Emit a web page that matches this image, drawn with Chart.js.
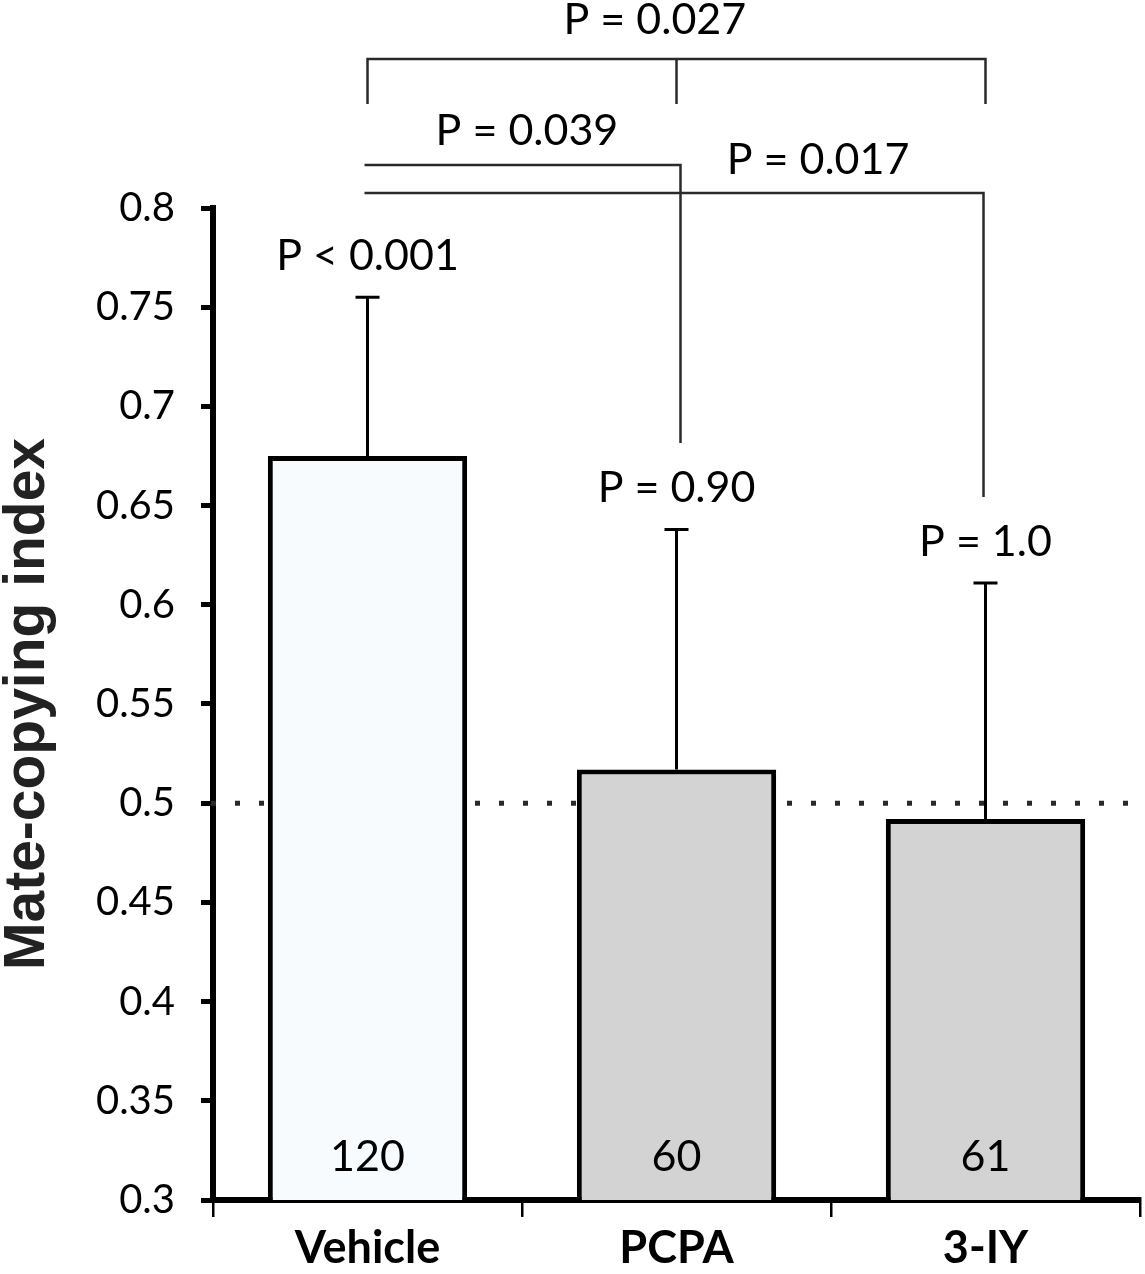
<!DOCTYPE html>
<html>
<head>
<meta charset="utf-8">
<script src="https://cdn.jsdelivr.net/npm/chart.js@4.4.1/dist/chart.umd.min.js"></script>
<style>
  html, body { margin: 0; padding: 0; background: #fff; }
  #wrap { width: 1145px; height: 1274px; }
</style>
</head>
<body>
<div id="wrap"><canvas id="chart" width="1145" height="1274"></canvas></div>
<script>
// Data
const categories = ['Vehicle', 'PCPA', '3-IY'];
const meanIndex = [0.675, 0.517, 0.492];
const errorTop = [0.755, 0.638, 0.611];
const sampleSizes = ['120', '60', '61'];
const chanceTests = ['P < 0.001', 'P = 0.90', 'P = 1.0'];
const yTicks = [0.3, 0.35, 0.4, 0.45, 0.5, 0.55, 0.6, 0.65, 0.7, 0.75, 0.8];
const chanceLevel = 0.5;
const barColors = ['#f7fbfd', '#d3d3d3', '#d3d3d3'];
// pairwise comparisons between groups
const allGroupsP = 'P = 0.027';
const vehicleVsPcpaP = 'P = 0.039';
const vehicleVsIyP = 'P = 0.017';

const textFont = '43px Lato';

// Dotted chance line, drawn behind the bars
const chanceLinePlugin = {
    id: 'chanceLine',
    beforeDatasetsDraw(chart) {
        const { ctx, chartArea, scales } = chart;
        const y = scales.y.getPixelForValue(chanceLevel);
        ctx.save();
        ctx.strokeStyle = '#2a2a2a';
        ctx.lineWidth = 5;
        ctx.setLineDash([5, 19]);
        ctx.beginPath();
        ctx.moveTo(chartArea.left - 2, y);
        ctx.lineTo(chartArea.right, y);
        ctx.stroke();
        ctx.restore();
    }
};

// Error bars, counts, P values and comparison brackets
const annotationPlugin = {
    id: 'annotations',
    afterDatasetsDraw(chart) {
        const { ctx, chartArea, scales } = chart;
        const x = scales.x, y = scales.y;

        ctx.save();
        // error bars
        ctx.strokeStyle = '#000';
        ctx.lineWidth = 3;
        categories.forEach((c, i) => {
            const cx = x.getPixelForValue(i);
            const yTop = y.getPixelForValue(errorTop[i]);
            const yBar = y.getPixelForValue(meanIndex[i]);
            ctx.beginPath();
            ctx.moveTo(cx, yBar);
            ctx.lineTo(cx, yTop);
            ctx.moveTo(cx - 12, yTop);
            ctx.lineTo(cx + 12, yTop);
            ctx.stroke();
        });

        // sample sizes and tests against chance
        ctx.fillStyle = '#000';
        ctx.font = textFont;
        ctx.textAlign = 'center';
        ctx.textBaseline = 'middle';
        categories.forEach((c, i) => {
            const cx = x.getPixelForValue(i);
            ctx.fillText(sampleSizes[i], cx, chartArea.bottom - 43);
            ctx.fillText(chanceTests[i], cx, y.getPixelForValue(errorTop[i]) - 41);
        });

        // brackets
        ctx.strokeStyle = '#2a2a2a';
        ctx.lineWidth = 2.5;
        const px = i => x.getPixelForValue(i);
        const py = v => y.getPixelForValue(v);

        // all three groups
        const topLine = py(0.8751), topDrop = py(0.8524);
        ctx.beginPath();
        ctx.moveTo(px(0), topDrop);
        ctx.lineTo(px(0), topLine);
        ctx.lineTo(px(2), topLine);
        ctx.lineTo(px(2), topDrop);
        ctx.moveTo(px(1), topLine);
        ctx.lineTo(px(1), topDrop);
        ctx.stroke();
        ctx.fillText(allGroupsP, px(0.93), py(0.8948));

        // vehicle vs PCPA
        ctx.beginPath();
        ctx.moveTo(px(0) - 3, py(0.8217));
        ctx.lineTo(px(1) + 4, py(0.8217));
        ctx.lineTo(px(1) + 4, py(0.6816));
        ctx.stroke();
        ctx.fillText(vehicleVsPcpaP, px(0.516), py(0.8388));

        // vehicle vs 3-IY
        ctx.beginPath();
        ctx.moveTo(px(0) - 3, py(0.8076));
        ctx.lineTo(px(2) - 2, py(0.8076));
        ctx.lineTo(px(2) - 2, py(0.6543));
        ctx.stroke();
        ctx.fillText(vehicleVsIyP, px(1.458), py(0.8242));

        ctx.restore();
    }
};

new Chart(document.getElementById('chart').getContext('2d'), {
    type: 'bar',
    data: {
        labels: categories,
        datasets: [{
            data: meanIndex,
            backgroundColor: barColors,
            borderColor: '#000',
            borderWidth: 5,
            borderSkipped: 'bottom',
            categoryPercentage: 1,
            barPercentage: 0.645
        }]
    },
    options: {
        responsive: false,
        animation: false,
        layout: { padding: { top: 208, right: 5, left: 0, bottom: 0 } },
        plugins: {
            legend: { display: false },
            tooltip: { enabled: false }
        },
        scales: {
            x: {
                offset: true,
                grid: {
                    offset: true,
                    drawOnChartArea: false,
                    drawTicks: true,
                    tickLength: 17,
                    lineWidth: 2.5,
                    color: '#000'
                },
                border: { display: true, width: 6, color: '#000' },
                ticks: {
                    color: '#000',
                    font: { family: 'Lato', size: 45, weight: 'bold' },
                    padding: 4
                },
                afterFit: s => { s.height = 74; }
            },
            y: {
                min: 0.3,
                max: 0.8,
                afterBuildTicks: s => { s.ticks = yTicks.map(v => ({ value: v })); },
                grid: {
                    drawOnChartArea: false,
                    tickLength: 12,
                    lineWidth: 5,
                    color: '#000'
                },
                border: { display: true, width: 6, color: '#000' },
                ticks: {
                    color: '#000',
                    font: { family: 'Lato', size: 40 },
                    padding: 26,
                    callback: v => String(Number(v.toFixed(2)))
                },
                title: {
                    display: true,
                    text: 'Mate-copying index',
                    color: '#222',
                    font: { family: 'Liberation Sans', size: 57, weight: 'bold', lineHeight: 1 },
                    padding: 0
                },
                afterFit: s => { s.width = 213; }
            }
        }
    },
    plugins: [chanceLinePlugin, annotationPlugin]
});
</script>
</body>
</html>
